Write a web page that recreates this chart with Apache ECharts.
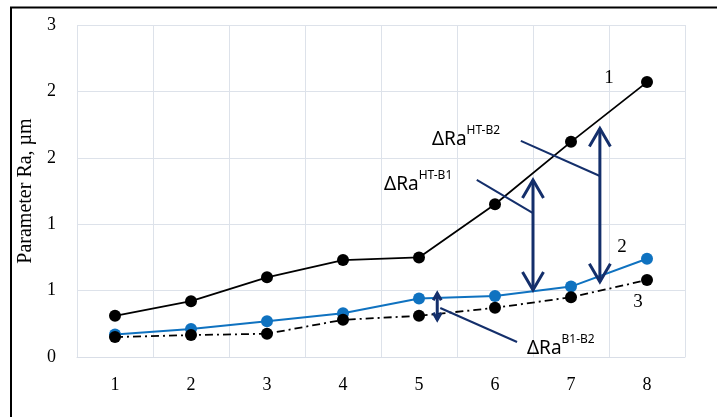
<!DOCTYPE html>
<html>
<head>
<meta charset="utf-8">
<script src="https://cdn.jsdelivr.net/npm/echarts@6/dist/echarts.min.js"></script>
<style>
  html, body { margin: 0; padding: 0; background: #fff; }
  #chart { width: 717px; height: 417px; }
</style>
</head>
<body>
<div id="chart"></div>
<script>
// Sample numbers along the x axis
const categories = ['1', '2', '3', '4', '5', '6', '7', '8'];
// Roughness Ra, µm: curve 1 (HT), curve 2 (B1), curve 3 (B2)
const ra1 = [0.31, 0.42, 0.60, 0.73, 0.75, 1.15, 1.62, 2.07];
const ra2 = [0.17, 0.21, 0.27, 0.33, 0.44, 0.46, 0.53, 0.74];
const ra3 = [0.15, 0.165, 0.175, 0.28, 0.31, 0.37, 0.45, 0.58];
// Tick labels on the value axis (rounded to whole numbers)
const yTickLabels = ['0', '1', '1', '2', '2', '3'];

// Difference arrows in data units: [category position, lower value, upper value]
const arrowHT_B1 = [5.5, 0.505, 1.333];
const arrowHT_B2 = [6.38, 0.567, 1.72];
const arrowB1_B2 = [4.24, 0.28, 0.48];
// Leader lines from captions to arrows: [[x0, y0], [x1, y1]]
const leaderHT_B1 = [[4.76, 1.333], [5.5, 1.084]];
const leaderHT_B2 = [[5.34, 1.627], [6.38, 1.363]];
const leaderB1_B2 = [[4.28, 0.369], [5.29, 0.113]];
// Caption anchors (left, bottom)
const captionHT_B1 = [3.54, 1.227];
const captionHT_B2 = [4.17, 1.566];
const captionB1_B2 = [5.42, -0.008];
// Curve number anchors (centre)
const curveTags = [['1', 6.5, 2.10], ['2', 6.67, 0.828], ['3', 6.88, 0.414]];

const NAVY = '#142f6b';
const SERIF = '"Liberation Serif", "Times New Roman", serif';
const SANS = '"Noto Sans", "Open Sans", sans-serif';

const chart = echarts.init(document.getElementById('chart'), null, { renderer: 'canvas' });

chart.setOption({
  animation: false,
  backgroundColor: '#ffffff',
  grid: { left: 77, right: 32, top: 25, bottom: 60 },
  xAxis: {
    type: 'category',
    data: categories,
    boundaryGap: true,
    axisLine: { show: true, lineStyle: { color: '#d9dee7', width: 1 } },
    axisTick: { show: false },
    axisLabel: { color: '#000', fontFamily: SERIF, fontSize: 18, margin: 19 },
    splitLine: { show: true, lineStyle: { color: '#dde2ea', width: 1 } }
  },
  yAxis: {
    type: 'value',
    min: 0,
    max: 2.5,
    interval: 0.5,
    name: 'Parameter Ra, \u00b5m',
    nameLocation: 'middle',
    nameGap: 38,
    nameRotate: 90,
    nameTextStyle: { color: '#000', fontFamily: SERIF, fontSize: 20 },
    axisLine: { show: false },
    axisTick: { show: false },
    axisLabel: {
      color: '#000', fontFamily: SERIF, fontSize: 18, margin: 21,
      formatter: function (v) { return yTickLabels[Math.round(v / 0.5)]; }
    },
    splitLine: { show: true, lineStyle: { color: '#dde2ea', width: 1 } }
  },
  series: [
    {
      name: '2', type: 'line', data: ra2,
      symbol: 'circle', symbolSize: 12,
      itemStyle: { color: '#0f72c0' },
      lineStyle: { color: '#0f72c0', width: 2 },
      z: 2
    },
    {
      name: '3', type: 'line', data: ra3,
      symbol: 'circle', symbolSize: 12,
      itemStyle: { color: '#000' },
      lineStyle: { color: '#000', width: 1.8, type: [8, 4, 2, 4] },
      z: 3
    },
    {
      name: '1', type: 'line', data: ra1,
      symbol: 'circle', symbolSize: 12,
      itemStyle: { color: '#000' },
      lineStyle: { color: '#000', width: 1.8 },
      z: 4
    }
  ]
});

// Pixel position of a (fractional category position, value) pair
function toPx(xi, y) {
  const i0 = Math.max(0, Math.min(Math.floor(xi), categories.length - 2));
  const p0 = chart.convertToPixel({ gridIndex: 0 }, [i0, y]);
  const p1 = chart.convertToPixel({ gridIndex: 0 }, [i0 + 1, y]);
  return [p0[0] + (p1[0] - p0[0]) * (xi - i0), p0[1]];
}

function doubleArrow(spec, halfW, headLen, width) {
  const top = toPx(spec[0], spec[2]);
  const bot = toPx(spec[0], spec[1]);
  const ls = { stroke: NAVY, lineWidth: width, fill: null, lineCap: 'butt', lineJoin: 'miter' };
  return [
    { type: 'polyline', shape: { points: [top, bot] }, style: ls, z: 10 },
    { type: 'polyline', shape: { points: [[top[0] - halfW, top[1] + headLen], top, [top[0] + halfW, top[1] + headLen]] }, style: ls, z: 10 },
    { type: 'polyline', shape: { points: [[bot[0] - halfW, bot[1] - headLen], bot, [bot[0] + halfW, bot[1] - headLen]] }, style: ls, z: 10 }
  ];
}

function leader(spec) {
  return {
    type: 'polyline',
    shape: { points: [toPx(spec[0][0], spec[0][1]), toPx(spec[1][0], spec[1][1])] },
    style: { stroke: NAVY, lineWidth: 2, fill: null },
    z: 9
  };
}

function caption(anchor, sup) {
  const p = toPx(anchor[0], anchor[1]);
  return {
    type: 'text',
    x: p[0], y: p[1],
    style: {
      text: '{m|\u0394Ra}{s|' + sup + '}',
      textAlign: 'left',
      textVerticalAlign: 'bottom',
      fill: '#000',
      rich: {
        m: { fontFamily: SANS, fontSize: 19, lineHeight: 24, verticalAlign: 'bottom', fill: '#000' },
        s: { fontFamily: SANS, fontSize: 12, lineHeight: 16, verticalAlign: 'top', fill: '#000' }
      }
    },
    z: 11
  };
}

const graphics = [
  {
    type: 'rect',
    shape: { x: 11, y: 7.5, width: 730, height: 430 },
    style: { stroke: '#000', lineWidth: 2, fill: null },
    silent: true, z: 20
  }
]
  .concat(doubleArrow(arrowHT_B1, 10.5, 18, 3))
  .concat(doubleArrow(arrowHT_B2, 10.5, 18, 3))
  .concat(doubleArrow(arrowB1_B2, 4, 7, 3))
  .concat([leader(leaderHT_B1), leader(leaderHT_B2), leader(leaderB1_B2)])
  .concat([
    caption(captionHT_B1, 'HT-B1'),
    caption(captionHT_B2, 'HT-B2'),
    caption(captionB1_B2, 'B1-B2')
  ])
  .concat(curveTags.map(function (t) {
    const p = toPx(t[1], t[2]);
    return {
      type: 'text', x: p[0], y: p[1],
      style: { text: t[0], textAlign: 'center', textVerticalAlign: 'middle', fill: '#000', font: '19px ' + SERIF },
      z: 11
    };
  }));

chart.setOption({ graphic: graphics });
</script>
</body>
</html>
